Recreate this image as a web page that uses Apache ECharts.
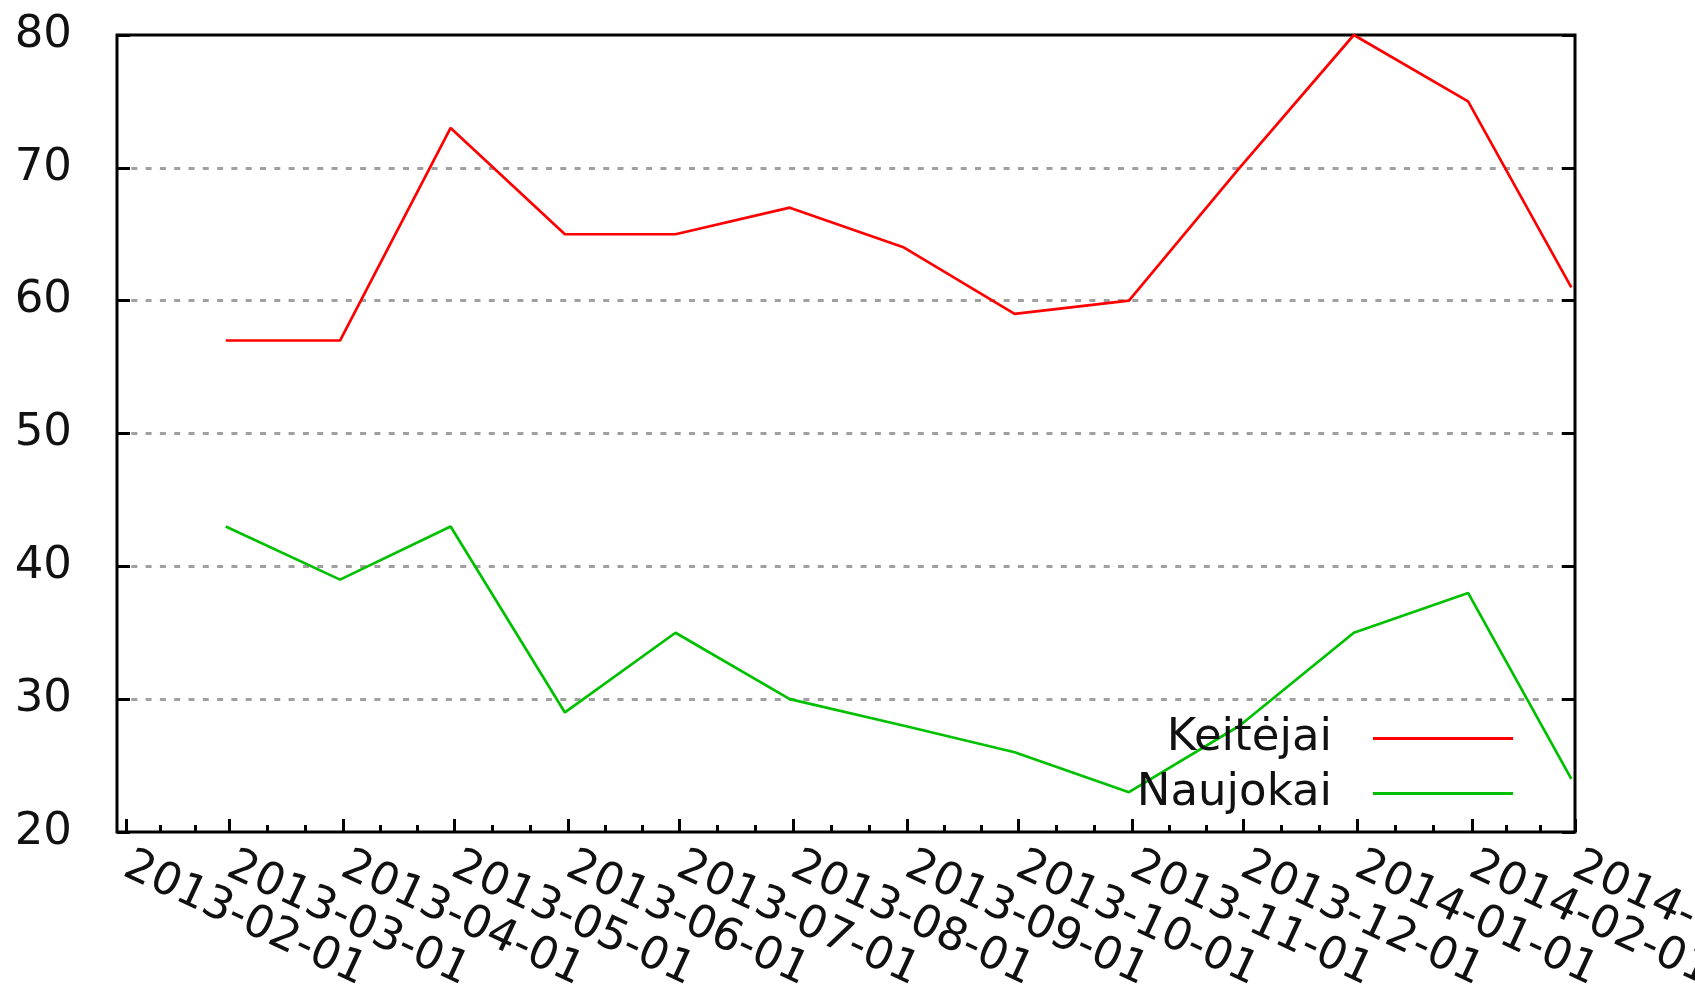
<!DOCTYPE html>
<html>
<head>
<meta charset="utf-8">
<script src="https://cdn.jsdelivr.net/npm/echarts@6/dist/echarts.min.js"></script>
<style>
html, body { margin: 0; padding: 0; background: #fff; }
#chart { width: 1695px; height: 1001px; }
</style>
</head>
<body>
<div id="chart"></div>
<script>
// duomenys (mėnesio pabaiga)
var dates = ['2013-02-28','2013-03-31','2013-04-30','2013-05-31','2013-06-30','2013-07-31',
	'2013-08-31','2013-09-30','2013-10-31','2013-11-30','2013-12-31','2014-01-31','2014-02-28'];
var keitejai = [57, 57, 73, 65, 65, 67, 64, 59, 60, 70, 80, 75, 61];
var naujokai = [43, 39, 43, 29, 35, 30, 28, 26, 23, 28, 35, 38, 24];
var seriesNames = ['Keitėjai', 'Naujokai'];

// asies žymos
var monthTicks = ['2013-02-01','2013-03-01','2013-04-01','2013-05-01','2013-06-01','2013-07-01',
	'2013-08-01','2013-09-01','2013-10-01','2013-11-01','2013-12-01','2014-01-01','2014-02-01','2014-03-01'];
var yTicks = [20, 30, 40, 50, 60, 70, 80];
var xStart = '2013-01-29T12';
var xEnd = '2014-03-01';

function toTime(s){
	var p = s.split('T');
	var d = p[0].split('-');
	var h = p.length > 1 ? parseInt(p[1], 10) : 0;
	return Date.UTC(+d[0], +d[1] - 1, +d[2], h);
}
function pad(n){
	return n < 10 ? '0' + n : '' + n;
}
function fmtDate(v){
	var d = new Date(v);
	return d.getUTCFullYear() + '-' + pad(d.getUTCMonth() + 1) + '-' + pad(d.getUTCDate());
}
function pairs(vals){
	var out = [];
	for(var i = 0; i < dates.length; i++){
		out.push([toTime(dates[i]), vals[i]]);
	}
	return out;
}

var majorTimes = [];
var minorTimes = [];
var labelsEven = [];
var labelsOdd = [];
for(var i = 0; i < monthTicks.length; i++){
	majorTimes.push(toTime(monthTicks[i]));
	if(i % 2 == 0){
		labelsEven.push(toTime(monthTicks[i]));
	}else{
		labelsOdd.push(toTime(monthTicks[i]));
	}
}
for(var i = 0; i < majorTimes.length - 1; i++){
	var a = majorTimes[i], b = majorTimes[i + 1];
	minorTimes.push(a + (b - a) / 3);
	minorTimes.push(a + (b - a) * 2 / 3);
}

var font = 'DejaVu Sans';
var fs = 45;
var txtColor = '#111';

// x ašys: žymos ir brūkšneliai atskirai (kad ECharts nieko nepaslėptų)
function tickAxis(values, len){
	return {
		type: 'value', position: 'bottom',
		min: toTime(xStart), max: toTime(xEnd),
		axisLine: {show: false, onZero: false},
		axisTick: {show: true, inside: true, length: len, customValues: values, lineStyle: {color: '#000', width: 3}},
		axisLabel: {show: false},
		splitLine: {show: false}
	};
}
function labelAxis(values){
	return {
		type: 'value', position: 'bottom',
		min: toTime(xStart), max: toTime(xEnd),
		axisLine: {show: false, onZero: false},
		axisTick: {show: false},
		axisLabel: {
			show: true, customValues: values, rotate: -25, margin: 32,
			showMinLabel: true, showMaxLabel: true, hideOverlap: false,
			fontFamily: font, fontSize: fs, color: txtColor,
			formatter: function(v){ return fmtDate(v); }
		},
		splitLine: {show: false}
	};
}

var myChart = echarts.init(document.getElementById('chart'), null, {renderer: 'canvas'});
myChart.setOption({
	animation: false,
	backgroundColor: '#fff',
	grid: {
		left: 117, right: 120, top: 35, bottom: 169,
		containLabel: false, outerBoundsMode: 'none',
		show: true, borderColor: '#000', borderWidth: 3, backgroundColor: 'transparent'
	},
	legend: {
		data: seriesNames,
		orient: 'vertical',
		align: 'right',
		right: 182,
		top: 716,
		padding: 0,
		icon: 'rect',
		itemWidth: 140,
		itemHeight: 3,
		itemGap: 10,
		textStyle: {fontFamily: font, fontSize: fs, color: txtColor, lineHeight: 44, padding: [0, 36, 0, 0]}
	},
	xAxis: [
		tickAxis(majorTimes, 13),
		tickAxis(minorTimes, 7),
		labelAxis(labelsEven),
		labelAxis(labelsOdd)
	],
	yAxis: [{
		type: 'value',
		position: 'left',
		min: yTicks[0],
		max: yTicks[yTicks.length - 1],
		interval: 10,
		axisLine: {show: false},
		axisTick: {show: true, inside: true, length: 13, lineStyle: {color: '#000', width: 3}},
		axisLabel: {fontFamily: font, fontSize: fs, color: txtColor, margin: 45},
		splitLine: {show: true, showMinLine: false, showMaxLine: false, lineStyle: {color: '#a0a0a0', width: 3, type: [6, 8.3]}}
	}, {
		type: 'value',
		position: 'right',
		min: yTicks[0],
		max: yTicks[yTicks.length - 1],
		interval: 10,
		axisLine: {show: false},
		axisTick: {show: true, inside: true, length: 13, lineStyle: {color: '#000', width: 3}},
		axisLabel: {show: false},
		splitLine: {show: false}
	}],
	series: [{
		name: seriesNames[0],
		type: 'line',
		xAxisIndex: 0,
		data: pairs(keitejai),
		symbol: 'none',
		color: '#ff0000',
		lineStyle: {color: '#ff0000', width: 2.7}
	}, {
		name: seriesNames[1],
		type: 'line',
		xAxisIndex: 0,
		data: pairs(naujokai),
		symbol: 'none',
		color: '#00c000',
		lineStyle: {color: '#00c000', width: 2.7}
	}]
});
</script>
</body>
</html>
